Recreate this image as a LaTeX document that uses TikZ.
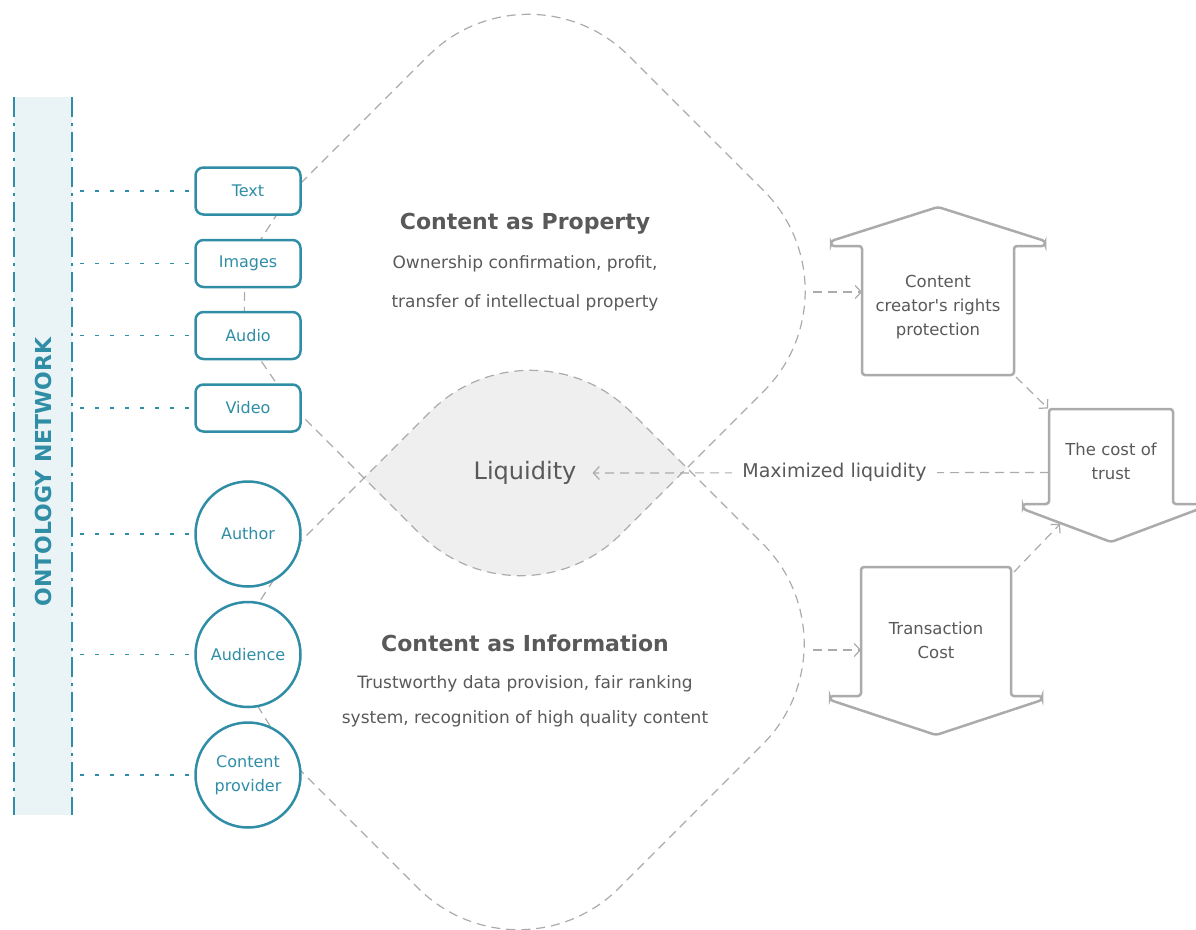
\documentclass[tikz,border=0pt]{standalone}
\usepackage{fontspec}
\setmainfont{DejaVu Sans}
\usetikzlibrary{arrows.meta}

\definecolor{ontoteal}{HTML}{2F8EA6}
\definecolor{bandbg}{HTML}{EAF4F6}
\definecolor{lensgray}{HTML}{EFEFEF}
\definecolor{linegray}{HTML}{ABABAB}
\definecolor{textgray}{HTML}{595959}

\tikzset{
  media/.style={draw=ontoteal, line width=2.5pt, fill=white, rounded corners=8pt,
    minimum width=105pt, minimum height=47pt, text=ontoteal, font=\fontsize{16}{24}\selectfont},
  actor/.style={draw=ontoteal, line width=2.5pt, fill=white, circle, minimum size=105pt,
    inner sep=0pt, text=ontoteal, align=center, font=\fontsize{16}{24}\selectfont},
  blob/.style={draw=linegray, line width=1.2pt, dash pattern=on 9pt off 6pt},
  feed/.style={draw=ontoteal, line width=1.5pt, dash pattern=on 4pt off 11pt},
  bandedge/.style={draw=ontoteal, line width=2.5pt, dash pattern=on 20pt off 6pt on 3pt off 6pt},
  flow/.style={draw=linegray, line width=1.2pt, dash pattern=on 9pt off 6pt,
    -{Straight Barb[length=6pt,width=13pt]}},
  fatarrow/.style={draw=linegray, line width=2.5pt, rounded corners=3pt},
  arrowtxt/.style={text=textgray, align=center, font=\fontsize{16.5}{24}\selectfont},
  headline/.style={text=textgray, font=\bfseries\fontsize{22}{30}\selectfont},
}

\begin{document}
\begin{tikzpicture}[x=1pt,y=-1pt]
\useasboundingbox (0,0) rectangle (1196,929);

% ontology band
\fill[bandbg] (14,97) rectangle (72,815);
\draw[bandedge] (14,97) -- (14,815);
\draw[bandedge] (72,97) -- (72,815);
\node[rotate=90, text=ontoteal, font=\bfseries\fontsize{22}{30}\selectfont] (onto) at (43,472) {ONTOLOGY NETWORK};
\coordinate (bandR) at (80,0);

% corners of the two rounded squares
\coordinate (pl) at (185,299);
\coordinate (pt) at (528.5,-44.5);
\coordinate (pr) at (864,291);
\coordinate (pb) at (520.5,634.5);
\coordinate (ql) at (186,656);
\coordinate (qt) at (530.5,311.5);
\coordinate (qr) at (863,644);
\coordinate (qb) at (518.5,988.5);

% liquidity lens = overlap
\begin{scope}
\clip[rounded corners=142pt] (pl) -- (pt) -- (pr) -- (pb) -- cycle;
\fill[lensgray, rounded corners=142pt] (ql) -- (qt) -- (qr) -- (qb) -- cycle;
\end{scope}

% property shape, left side runs behind the media boxes
\coordinate (p-text) at (290,194);
\coordinate (p-images) at (245,264);
\coordinate (p-audio) at (244,336);
\coordinate (p-video) at (292,406);
\draw[blob, rounded corners=142pt] (p-text) -- (pt) -- (pr) -- (pb) -- (p-video);
\draw[blob] (p-video) -- (p-audio) -- (p-images) -- (p-text);

% information shape, left side runs behind the actors
\coordinate (q-author) at (296,546);
\coordinate (q-audience) at (225,654);
\coordinate (q-provider) at (294,764);
\draw[blob, rounded corners=142pt] (q-author) -- (qt) -- (qr) -- (qb) -- (q-provider);
\draw[blob] (q-provider) -- (q-audience) -- (q-author);

% media and actors
\node[media] (text) at (248,191) {Text};
\node[media] (images) at (248,263.5) {Images};
\node[media] (audio) at (248,335.5) {Audio};
\node[media] (video) at (248,408) {Video};
\node[actor] (author) at (248,534) {Author};
\node[actor] (audience) at (248,654.5) {Audience};
\node[actor] (provider) at (248,775) {Content\\provider};

\foreach \n in {text,images,audio,video,author,audience,provider}
  \draw[feed] (\n.west -| bandR) -- (\n.west);

% texts in the shapes
\node[headline] (prop) at (525,224) {Content as Property};
\node[text=textgray, align=center, font=\fontsize{17}{39}\selectfont] (propdesc) at (525,283)
  {Ownership confirmation, profit,\\transfer of intellectual property};
\node[headline] (info) at (525,643) {Content as Information};
\node[text=textgray, align=center, font=\fontsize{17}{35}\selectfont] (infodesc) at (525,701)
  {Trustworthy data provision, fair ranking\\system, recognition of high quality content};
\node[text=textgray, inner xsep=16pt, font=\fontsize{24}{30}\selectfont] (liq) at (525,473) {Liquidity};

% big arrows
\node[arrowtxt] (protect) at (938,307) {Content\\creator\textquotesingle s rights\\protection};
\draw[fatarrow] ([shift={(-76,68)}]protect.center) -- ++(0,-129) -- ++(-31,0) -- ++(0,-5)
  -- ++(107,-34) -- ++(107,34) -- ++(0,5) -- ++(-31,0) -- ++(0,129) -- cycle;

\node[arrowtxt] (trust) at (1111,461.5) {The cost of\\trust};
\draw[fatarrow] ([shift={(-62,-52.5)}]trust.center) -- ++(124,0) -- ++(0,95) -- ++(26,0) -- ++(0,5)
  -- ++(-88,33) -- ++(-88,-33) -- ++(0,-5) -- ++(26,0) -- cycle;

\node[arrowtxt] (transaction) at (936,640) {Transaction\\Cost};
\draw[fatarrow] ([shift={(-75,-73)}]transaction.center) -- ++(150,0) -- ++(0,129) -- ++(31,0) -- ++(0,4)
  -- ++(-106,35) -- ++(-106,-35) -- ++(0,-4) -- ++(31,0) -- cycle;

% connectors
\coordinate (propR) at (813,292);
\coordinate (infoR) at (813,650);
\draw[flow] (propR) -- ([shift={(-76,-15)}]protect.center);
\draw[flow] (infoR) -- ([shift={(-75,10)}]transaction.center);
\draw[flow] ([shift={(78,70)}]protect.center) -- ([shift={(-63,-53)}]trust.center);
\draw[flow] ([shift={(78,-68)}]transaction.center) -- ([shift={(-51,62.5)}]trust.center);
\draw[flow] ([shift={(-62,11)}]trust.center) -- node[pos=0.47, fill=white, text=textgray,
  inner xsep=10pt, font=\fontsize{19}{24}\selectfont] (maxliq) {Maximized liquidity} (liq.east);

\end{tikzpicture}
\end{document}
